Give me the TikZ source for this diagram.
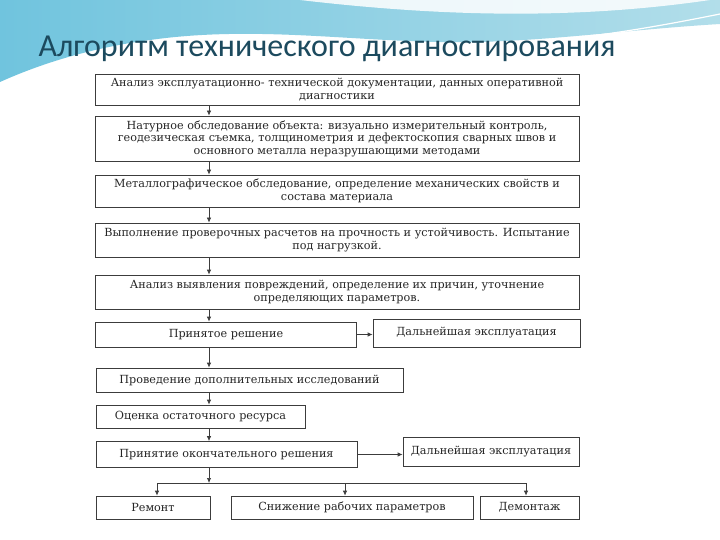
\documentclass[tikz,border=0pt]{standalone}
\usepackage{fontspec}
\setmainfont{DejaVu Serif}
\newfontfamily\titlefont{Carlito}
\usetikzlibrary{arrows.meta, positioning}
\definecolor{titleteal}{RGB}{28,74,94}
\definecolor{skyleft}{RGB}{112,196,222}
\definecolor{skyright}{RGB}{178,222,234}
\definecolor{frameline}{RGB}{60,60,60}

\begin{document}
\begin{tikzpicture}[
  x=1pt, y=-1pt,
  stage/.style={
    rectangle, draw=frameline, line width=0.7pt,
    fill=white, align=center, inner sep=2pt,
    font=\fontsize{11.2}{12.6}\selectfont,
    text=black!85
  },
  arrow/.style={-{Latex[length=5pt,width=4.4pt]}, line width=0.7pt, frameline}
]

% background
\useasboundingbox (0,0) rectangle (720,540);
\fill[white] (0,0) rectangle (720,540);
\shade[left color=skyleft, right color=skyright]
  (0,0) -- (720,0) -- (720,24)
  .. controls (620,30) and (530,44) .. (440,42)
  .. controls (340,40) and (250,26) .. (150,40)
  .. controls (90,48) and (40,64) .. (0,82) -- cycle;
\fill[white, opacity=0.85]
  (300,0) .. controls (420,14) and (560,22) .. (710,0) -- cycle;
\draw[white, line width=1.2pt]
  (0,88) .. controls (60,66) and (110,50) .. (180,46)
  .. controls (260,42) and (330,50) .. (440,48)
  .. controls (560,44) and (640,30) .. (720,14);

\node[font=\titlefont\fontsize{32}{36}\selectfont, text=titleteal,
      anchor=base west] (title) at (35,57)
  {Алгоритм технического диагностирования};

% main column
\node[stage, minimum width=484, minimum height=31] (analysis) at (337,89.5)
  {Анализ эксплуатационно- технической документации, данных оперативной\\
   диагностики};
\node[stage, minimum width=484, minimum height=45] (survey) at (337,138.5)
  {Натурное обследование объекта: визуально измерительный контроль,\\
   геодезическая съемка, толщинометрия и дефектоскопия сварных швов и\\
   основного металла неразрушающими методами};
\node[stage, minimum width=484, minimum height=32] (metal) at (337,191)
  {Металлографическое обследование, определение механических свойств и\\
   состава материала};
\node[stage, minimum width=484, minimum height=34] (calc) at (337,240)
  {Выполнение проверочных расчетов на прочность и устойчивость. Испытание\\
   под нагрузкой.};
\node[stage, minimum width=484, minimum height=34] (damage) at (337,292)
  {Анализ выявления повреждений, определение их причин, уточнение\\
   определяющих параметров.};

\node[stage, minimum width=261, minimum height=25] (decision) at (226,334.5)
  {Принятое решение};
\node[stage, minimum width=207, minimum height=28] (useA) at (476.5,333)
  {Дальнейшая эксплуатация};
\node[stage, minimum width=307, minimum height=24] (extra) at (249.5,380)
  {Проведение дополнительных исследований};
\node[stage, minimum width=209, minimum height=23] (resource) at (200.5,416.5)
  {Оценка остаточного ресурса};
\node[stage, minimum width=261, minimum height=26] (final) at (226.5,454.5)
  {Принятие окончательного решения};
\node[stage, minimum width=176, minimum height=29] (useB) at (491,451.5)
  {Дальнейшая эксплуатация};

% outcomes
\node[stage, minimum width=114, minimum height=23] (repair) at (153,507.5)
  {Ремонт};
\node[stage, minimum width=242, minimum height=23] (derate) at (352,507.5)
  {Снижение рабочих параметров};
\node[stage, minimum width=99, minimum height=23] (dismantle) at (529.5,507.5)
  {Демонтаж};

% connectors
\coordinate (spine) at (209,0);
\coordinate (forkL) at (157,483);
\coordinate (forkM) at (345,483);
\coordinate (forkR) at (526,483);

\foreach \from/\to in {analysis/survey, survey/metal, metal/calc, calc/damage,
                       damage/decision, decision/extra, extra/resource,
                       resource/final}
  \draw[arrow] (\from.south -| spine) -- (\to.north -| spine);

\draw[arrow] (decision.east) -- (decision.east -| useA.west);
\draw[arrow] (final.east) -- (final.east -| useB.west);

\draw[arrow] (final.south -| spine) -- (spine |- forkL);
\draw[line width=0.7pt, frameline] (forkL) -- (forkR);
\draw[arrow] (forkL) -- (forkL |- repair.north);
\draw[arrow] (forkM) -- (forkM |- derate.north);
\draw[arrow] (forkR) -- (forkR |- dismantle.north);

\end{tikzpicture}
\end{document}
